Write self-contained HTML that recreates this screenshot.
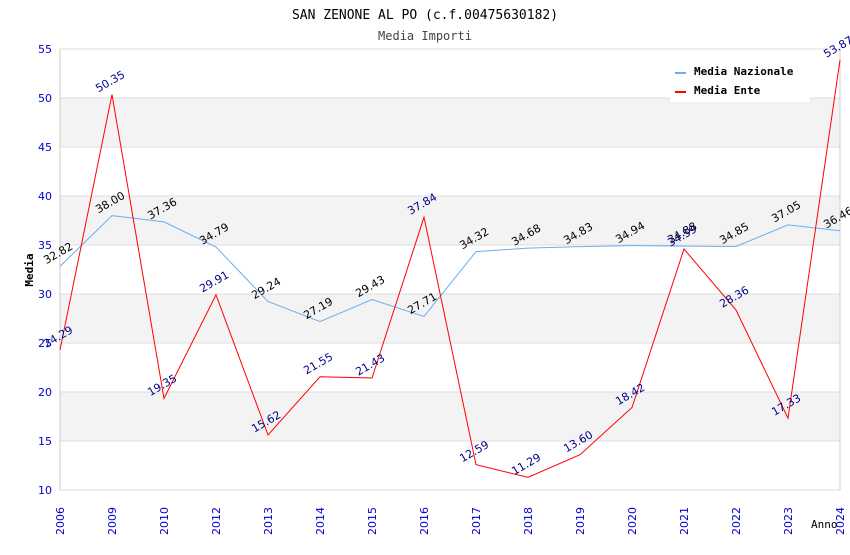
<!DOCTYPE html>
<html><head><meta charset="utf-8"><style>
body{margin:0;background:#fff;width:850px;height:550px;overflow:hidden}
svg{font-family:"DejaVu Sans Mono","Liberation Mono",monospace}
.s{font-family:"DejaVu Sans","Liberation Sans",sans-serif}
</style></head><body>
<svg id="c" width="850" height="550">
<text x="425" y="19" text-anchor="middle" font-size="13" fill="#000">SAN ZENONE AL PO (c.f.00475630182)</text>
<text x="425" y="40" text-anchor="middle" font-size="12" fill="#444">Media Importi</text>
<g id="grid"></g><g id="axes"></g><g id="series"></g>
<text x="33" y="270" text-anchor="middle" font-size="11" font-weight="bold" transform="rotate(-90 33 270)">Media</text>
<text x="811" y="528" font-size="11" fill="#000">Anno</text>
<g>
<rect x="670" y="60" width="140" height="42" fill="#fff"/>
<line x1="675" y1="73" x2="686" y2="73" stroke="#6aaef0" stroke-width="2"/>
<text x="694" y="75" font-size="11" font-weight="bold">Media Nazionale</text>
<line x1="675" y1="92" x2="686" y2="92" stroke="#f00" stroke-width="2"/>
<text x="694" y="94" font-size="11" font-weight="bold">Media Ente</text>
</g>
</svg>
<script>
const years=["2006","2009","2010","2012","2013","2014","2015","2016","2017","2018","2019","2020","2021","2022","2023","2024"];
const nazionale=[32.82,38.00,37.36,34.79,29.24,27.19,29.43,27.71,34.32,34.68,34.83,34.94,34.88,34.85,37.05,36.46];
const ente=[24.29,50.35,19.35,29.91,15.62,21.55,21.43,37.84,12.59,11.29,13.60,18.42,34.59,28.36,17.33,53.87];
const yTicks=[10,15,20,25,30,35,40,45,50,55];
const NS="http://www.w3.org/2000/svg";
const X0=60,X1=840,Y0=490,Y1=49;
const x=i=>X0+i*(X1-X0)/(years.length-1);
const y=v=>Y0-(v-10)*(Y0-Y1)/45;
function mk(t,a,p){const e=document.createElementNS(NS,t);for(const k in a)e.setAttribute(k,a[k]);p.appendChild(e);return e;}
const grid=document.getElementById('grid'),axes=document.getElementById('axes'),ser=document.getElementById('series');
for(let k=0;k<yTicks.length-1;k++){
 if(k%2===1){const r=mk('rect',{x:X0,y:y(yTicks[k+1]),width:X1-X0,height:y(yTicks[k])-y(yTicks[k+1]),fill:'#f3f3f3'},grid);
 
 }
}
yTicks.forEach(v=>{
 mk('line',{x1:X0,x2:X1,y1:y(v),y2:y(v),stroke:'#ddd'},grid);
 const t=mk('text',{x:52,y:y(v)+4,'text-anchor':'end','font-size':11,fill:'#00c',class:'s'},axes);t.textContent=v;
 
 
});
mk('line',{x1:X0,x2:X0,y1:Y1,y2:Y0,stroke:'#ccc'},axes);
mk('line',{x1:X1,x2:X1,y1:Y1,y2:Y0,stroke:'#ccc'},axes);
years.forEach((yr,i)=>{
 const t=mk('text',{x:x(i)+4,y:535,'text-anchor':'start','font-size':11,fill:'#00c',class:'s',transform:`rotate(-90 ${x(i)+4} 535)`},axes);t.textContent=yr;
 
 
});
function line(vals,color,name,lab){
 const p=mk('polyline',{points:vals.map((v,i)=>x(i)+','+y(v)).join(' '),fill:'none',stroke:color,'stroke-width':1},ser);
 
 
 vals.forEach((v,i)=>{const tx=x(i),ty=y(v)-10;
  const t=mk('text',{x:tx,y:ty,'text-anchor':'middle','font-size':11,fill:lab,class:'s',transform:`rotate(-30 ${tx} ${ty})`},ser);t.textContent=v.toFixed(2);
  
  });
}
line(nazionale,'#6aaef0','line-nazionale','#000');
line(ente,'#f00','line-ente','#00008b');
</script>
</body></html>
